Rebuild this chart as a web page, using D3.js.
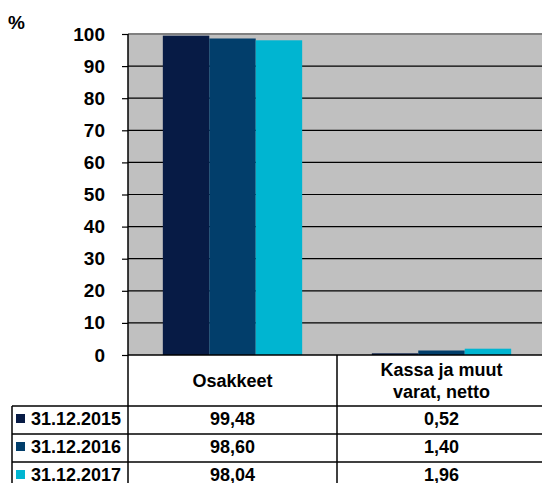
<!DOCTYPE html>
<html lang="fi">
<head>
<meta charset="UTF-8">
<title>Osakkeet / Kassa</title>
<style>
  body { margin: 0; background: #fff; }
  svg { display: block; font-family: "Liberation Sans", Arial, sans-serif; font-weight: bold; }
</style>
</head>
<body>
<div id="chart"></div>
<script src="https://cdn.jsdelivr.net/npm/d3@7"></script>
<script>
// data
const categories = ['Osakkeet', 'Kassa ja muut|varat, netto'];
const series = ['31.12.2015', '31.12.2016', '31.12.2017'];
const values = [
  [99.48, 0.52],
  [98.60, 1.40],
  [98.04, 1.96]
];
const labels = [
  ['99,48', '0,52'],
  ['98,60', '1,40'],
  ['98,04', '1,96']
];
const colors = ['#071b45', '#023e6b', '#00b5d1'];
const yTicks = [0, 10, 20, 30, 40, 50, 60, 70, 80, 90, 100];

const width = 542, height = 483;
const plot = { left: 128, right: 546, top: 34, bottom: 355 };
const headerBottom = 406, rowH = 28;

const svg = d3.select('#chart').append('svg')
  .attr('width', width)
  .attr('height', height);

const x = d3.scaleBand()
  .domain(categories)
  .range([plot.left, plot.right]);

const bw = x.bandwidth();
const xSub = d3.scaleBand()
  .domain(series)
  .range([bw / 6, bw * 5 / 6]);

const y = d3.scaleLinear()
  .domain([0, 100])
  .range([plot.bottom, plot.top]);

// plot background
svg.append('rect')
  .attr('x', plot.left)
  .attr('y', plot.top)
  .attr('width', plot.right - plot.left)
  .attr('height', plot.bottom - plot.top)
  .attr('fill', '#c0c0c0');

// gridlines
svg.append('g')
  .selectAll('line')
  .data(yTicks.filter(d => d > 0 && d < 100))
  .join('line')
  .attr('x1', plot.left).attr('x2', plot.right)
  .attr('y1', d => y(d)).attr('y2', d => y(d))
  .attr('stroke', '#000').attr('stroke-width', 1.2);

svg.append('line')
  .attr('x1', plot.left).attr('x2', plot.right)
  .attr('y1', y(100)).attr('y2', y(100))
  .attr('stroke', '#808080').attr('stroke-width', 2);

// bars
svg.append('g')
  .selectAll('g')
  .data(series)
  .join('g')
  .attr('fill', (d, i) => colors[i])
  .selectAll('rect')
  .data((s, i) => categories.map((c, j) => ({ c: c, s: s, v: values[i][j] })))
  .join('rect')
  .attr('x', d => x(d.c) + xSub(d.s))
  .attr('width', xSub.bandwidth())
  .attr('y', d => y(d.v))
  .attr('height', d => y(0) - y(d.v));

// y axis
const yAxis = d3.axisLeft(y)
  .tickValues(yTicks)
  .tickSize(6)
  .tickPadding(17);

const ya = svg.append('g')
  .attr('transform', `translate(${plot.left},0)`)
  .call(yAxis);
ya.select('.domain').remove();
ya.selectAll('line').attr('stroke', '#000').attr('stroke-width', 1.2);
ya.selectAll('text')
  .attr('font-size', 19)
  .attr('font-family', '"Liberation Sans", Arial, sans-serif')
  .attr('font-weight', 'bold')
  .attr('fill', '#000');

svg.append('text')
  .attr('x', 8).attr('y', 29)
  .attr('font-size', 19)
  .text('%');

// table lines
const tableBottom = headerBottom + rowH * series.length;
const lines = svg.append('g').attr('stroke', '#000').attr('stroke-width', 1.5);
lines.append('line')
  .attr('x1', plot.left).attr('x2', plot.left)
  .attr('y1', plot.top).attr('y2', tableBottom);
lines.append('line')
  .attr('x1', plot.left).attr('x2', width)
  .attr('y1', plot.bottom).attr('y2', plot.bottom);
lines.append('line')
  .attr('x1', x(categories[1])).attr('x2', x(categories[1]))
  .attr('y1', plot.bottom).attr('y2', tableBottom);
lines.append('line')
  .attr('x1', 12).attr('x2', 12)
  .attr('y1', headerBottom).attr('y2', tableBottom);
lines.selectAll('.row')
  .data(d3.range(series.length + 1))
  .join('line')
  .attr('class', 'row')
  .attr('x1', 12).attr('x2', width)
  .attr('y1', i => headerBottom + i * rowH)
  .attr('y2', i => headerBottom + i * rowH);

// header labels
const header = svg.append('g')
  .attr('font-size', 18)
  .attr('text-anchor', 'middle');
categories.forEach(c => {
  const parts = c.split('|');
  const cx = x(c) + bw / 2;
  const mid = (plot.bottom + headerBottom) / 2 + 6.5;
  parts.forEach((p, k) => {
    header.append('text')
      .attr('x', cx)
      .attr('y', mid + (k - (parts.length - 1) / 2) * 22)
      .text(p);
  });
});

// rows: legend + values
series.forEach((s, i) => {
  const cy = headerBottom + i * rowH + rowH / 2;
  svg.append('rect')
    .attr('x', 16).attr('y', cy - 6)
    .attr('width', 9).attr('height', 9)
    .attr('fill', colors[i]);
  svg.append('text')
    .attr('x', 31).attr('y', cy + 5)
    .attr('font-size', 18)
    .text(s);
  categories.forEach((c, j) => {
    svg.append('text')
      .attr('x', x(c) + bw / 2)
      .attr('y', cy + 5)
      .attr('font-size', 18)
      .attr('text-anchor', 'middle')
      .text(labels[i][j]);
  });
});
</script>
</body>
</html>
